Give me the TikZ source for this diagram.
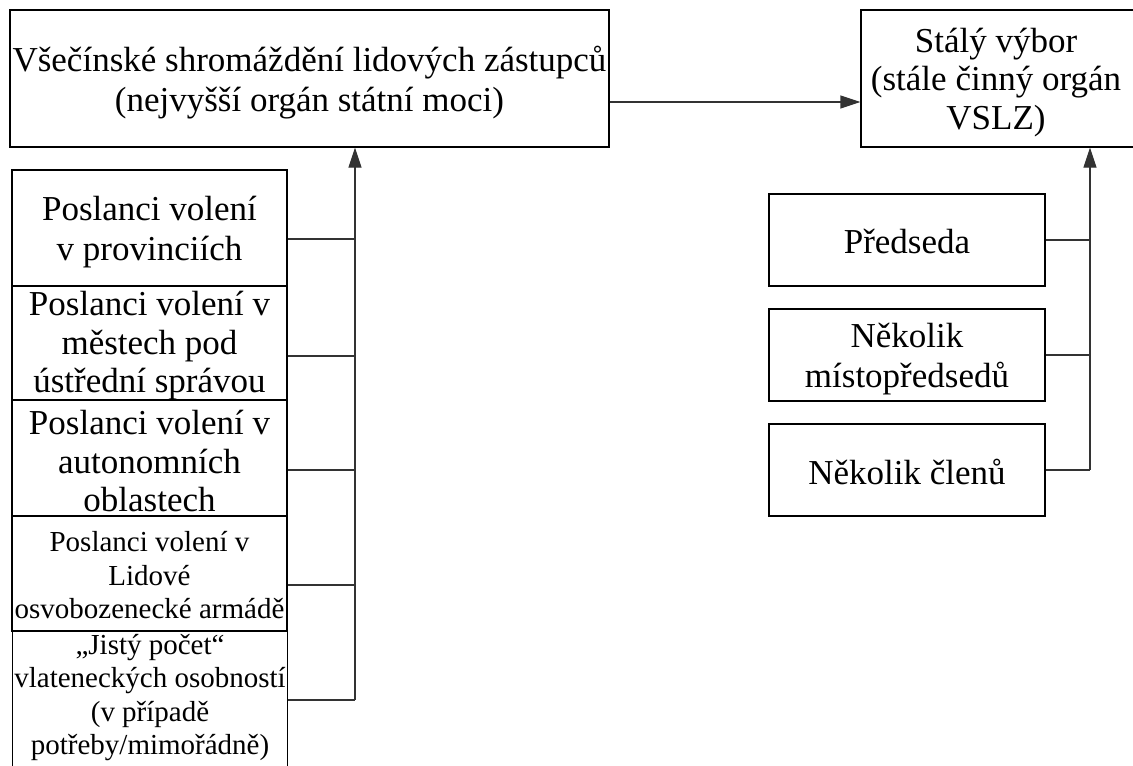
\documentclass[tikz,border=0pt]{standalone}
\usepackage{fontspec}
\setmainfont{Liberation Serif}
\usetikzlibrary{arrows.meta,calc}
\begin{document}
\begin{tikzpicture}[x=1pt,y=-1pt,
  frame/.style={draw=black, line width=1.1pt, inner sep=0pt},
  txt/.style={inner sep=0pt, align=center, font=\fontsize{35}{39.5}\selectfont},
  smalltxt/.style={txt, font=\fontsize{29}{33.5}\selectfont},
  conn/.style={draw=black!80, line width=1.1pt},
  arr/.style={conn, -{Triangle[length=20pt,width=13pt]}}]
\useasboundingbox (0,0) rectangle (1133,766);
\clip (0,0) rectangle (1133,766);
% top boxes
\node[frame, minimum width=599, minimum height=137] (A) at (309.5,78.5) {};
\node[txt, font=\fontsize{35}{40}\selectfont] (At) at ([yshift=-4pt]A.center)
  {Všečínské shromáždění lidových zástupců\\(nejvyšší orgán státní moci)};
\node[frame, minimum width=274, minimum height=137] (B) at (998,78.5) {};
\node[txt, font=\fontsize{35}{38.5}\selectfont] (Bt) at ([xshift=-2pt,yshift=-4pt]B.center)
  {Stálý výbor\\(stále činný orgán\\VSLZ)};
% left column
\node[frame, minimum width=275, minimum height=116] (P1) at (149.5,228) {};
\node[txt] (P1t) at ([yshift=-4pt]P1.center) {Poslanci volení\\ v provinciích};
\node[frame, minimum width=275, minimum height=114] (P2) at (149.5,343) {};
\node[txt, font=\fontsize{35}{38.5}\selectfont] (P2t) at ([yshift=-3pt]P2.center) {Poslanci volení v\\městech pod\\ústřední správou};
\node[frame, minimum width=275, minimum height=116] (P3) at (149.5,458) {};
\node[txt, font=\fontsize{35}{38.5}\selectfont] (P3t) at ([yshift=-3pt]P3.center) {Poslanci volení v\\autonomních\\oblastech};
\node[frame, minimum width=275, minimum height=115] (P4) at (149.5,573.5) {};
\node[smalltxt] (P4t) at ([yshift=-2pt]P4.center) {Poslanci volení v\\Lidové\\osvobozenecké armádě};
\node[frame, minimum width=275, minimum height=170, anchor=north west] (P5) at (12,631) {};
\node[smalltxt, anchor=north] (P5t) at ([yshift=-3pt]P5.north)
  {„Jistý počet“\\vlateneckých osobností\\(v případě\\potřeby/mimořádně)};
% right column
\node[frame, minimum width=276, minimum height=92] (R1) at (907,240) {};
\node[txt] (R1t) at ([yshift=-1pt]R1.center) {Předseda};
\node[frame, minimum width=276, minimum height=92] (R2) at (907,355) {};
\node[txt] (R2t) at ([yshift=-4pt]R2.center) {Několik\\místopředsedů};
\node[frame, minimum width=276, minimum height=92] (R3) at (907,470) {};
\node[txt] (R3t) at ([yshift=-2pt]R3.center) {Několik členů};
% connectors
\draw[arr] (A.east |- 0,102) -- (B.west |- 0,102);
\coordinate (busL) at (355,700);
\draw[arr] (busL) -- (A.south -| busL);
\draw[conn] (P1.east |- 0,239) -- (busL |- 0,239);
\draw[conn] (P2.east |- 0,356) -- (busL |- 0,356);
\draw[conn] (P3.east |- 0,470) -- (busL |- 0,470);
\draw[conn] (P4.east |- 0,585) -- (busL |- 0,585);
\draw[conn] (P5.east |- busL) -- (busL);
\coordinate (busR) at (1090,470);
\draw[arr] (busR) -- (B.south -| busR);
\draw[conn] (R1.east) -- (R1.east -| busR);
\draw[conn] (R2.east) -- (R2.east -| busR);
\draw[conn] (R3.east) -- (busR);
\end{tikzpicture}
\end{document}
